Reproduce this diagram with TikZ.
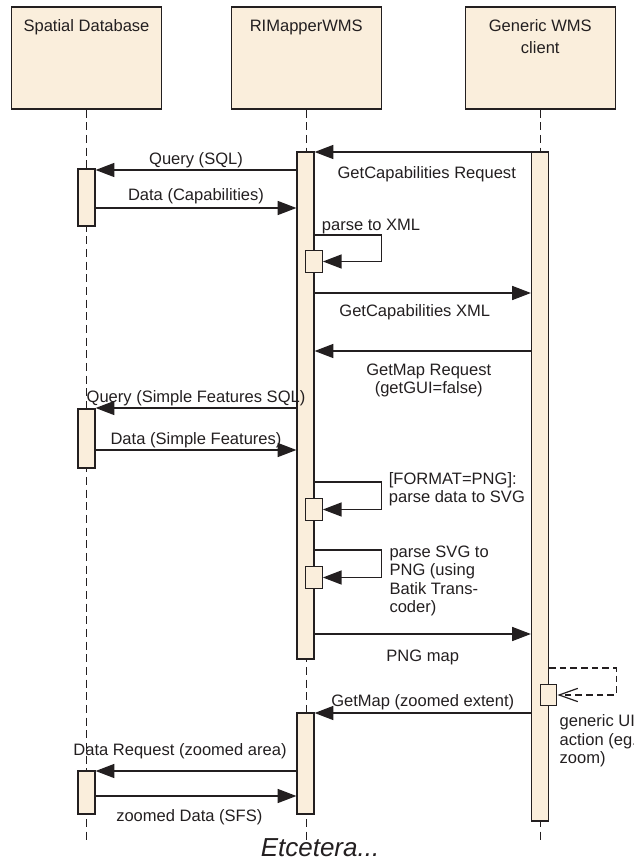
\documentclass[tikz,border=0pt]{standalone}
\usepackage{fontspec}
\setmainfont{Liberation Sans}
\usepackage{xcolor}
\usepackage{tikz}
\usetikzlibrary{arrows.meta, positioning, calc}
\definecolor{barfill}{HTML}{FAEEDC}
\definecolor{ink}{HTML}{231F20}
\tikzstyle{head} = [rectangle, draw=ink, fill=barfill, line width=0.9pt,
    minimum width=112.5pt, minimum height=76.5pt, inner sep=0pt]
\tikzstyle{headtext} = [anchor=north, inner sep=0pt, align=center, yshift=-9.75pt,
    font=\fontsize{12.4}{16.5}\selectfont]
\tikzstyle{bar} = [rectangle, draw=ink, fill=barfill, line width=0.9pt,
    minimum width=12.75pt, inner sep=0pt]
\tikzstyle{selfbar} = [bar, minimum width=12.4pt, minimum height=16pt]
\tikzstyle{life} = [draw=ink, line width=0.7pt, dash pattern=on 6pt off 3.5pt]
\tikzstyle{msg} = [draw=ink, line width=0.9pt, -{Triangle[length=14pt, width=10.5pt]}]
\tikzstyle{reply} = [draw=ink, line width=0.9pt, dash pattern=on 5pt off 3pt,
    -{Straight Barb[length=14pt, width=10pt]}]
\tikzstyle{lbl} = [inner sep=0pt, text=ink, align=center]

\begin{document}
\begin{tikzpicture}[x=0.75pt, y=-0.75pt, font=\fontsize{12.4}{13.9}\selectfont, text=ink]
  \useasboundingbox (0,0) rectangle (633,863);

  % Objects
  \node[head](db) at (86.5,58){};
  \node[head](rim) at (306.25,58){};
  \node[head](gen) at (540.25,58){};
  \node[headtext](dbtxt) at (db.north){Spatial Database};
  \node[headtext](rimtxt) at (rim.north){RIMapperWMS};
  \node[headtext](gentxt) at (gen.north){Generic WMS\\client};

  % Lifelines
  \draw[life](db.south)--(db.south |- 0,843);
  \draw[life](rim.south)--(rim.south |- 0,843);
  \draw[life](gen.south)--(gen.south |- 0,843);

  % Activation bars
  \node[bar, minimum height=380.25pt](rim1) at (305.5,405.5){};
  \node[bar, minimum height=501.75pt](gen1) at (540,486.5){};
  \node[bar, minimum height=42.75pt](db1) at (86.5,197.5){};
  \node[bar, minimum height=44.25pt](db2) at (86.5,438.5){};
  \node[bar, minimum height=32.25pt](db3) at (86.5,792.5){};
  \node[bar, minimum height=75.75pt](rim2) at (305.5,763.5){};
  \node[selfbar](s1) at (314,261.5){};
  \node[selfbar](s2) at (314,509.5){};
  \node[selfbar](s3) at (314,577.5){};
  \node[selfbar](g2) at (548.5,695){};

  % Capabilities
  \draw[msg](gen1.west |- 0,152)--(rim1.east |- 0,152)
    node[lbl, midway, below=10.5pt, xshift=3pt](m1){GetCapabilities Request};
  \draw[msg](rim1.west |- 0,170)--(db1.east |- 0,170)
    node[lbl, midway, above=1.2pt](m2){Query (SQL)};
  \draw[msg](db1.east |- 0,208)--(rim1.west |- 0,208)
    node[lbl, midway, above=2.6pt](m3){Data (Capabilities)};
  \draw[msg](rim1.east |- 0,235)
    node[lbl, anchor=base west, xshift=5pt, yshift=3.75pt](t1){parse to XML}
    -- ++(67,0) |- (s1.east);
  \draw[msg](rim1.east |- 0,293)--(gen1.west |- 0,293)
    node[lbl, midway, below=8.25pt, xshift=-6pt](m4){GetCapabilities XML};

  % Map
  \draw[msg](gen1.west |- 0,351)--(rim1.east |- 0,351)
    node[lbl, midway, below=9pt, xshift=4.5pt](m5){GetMap Request\\(getGUI=false)};
  \draw[msg](rim1.west |- 0,408)--(db2.east |- 0,408)
    node[lbl, midway, above=1.2pt](m6){Query (Simple Features SQL)};
  \draw[msg](db2.east |- 0,450)--(rim1.west |- 0,450)
    node[lbl, midway, above=1.2pt](m7){Data (Simple Features)};
  \draw[msg](rim1.east |- 0,482)-- ++(67,0)
    node[lbl, anchor=north west, align=left, xshift=5pt, yshift=7.6pt](t2){[FORMAT=PNG]:\\parse data to SVG}
    |- (s2.east);
  \draw[msg](rim1.east |- 0,550)-- ++(67,0)
    node[lbl, anchor=north west, align=left, xshift=5.5pt, yshift=3.75pt](t3){parse SVG to\\PNG (using\\Batik Trans-\\coder)}
    |- (s3.east);
  \draw[msg](rim1.east |- 0,634)--(gen1.west |- 0,634)
    node[lbl, midway, below=11.25pt](m8){PNG map};

  % Zoomed map
  \draw[reply](gen1.east |- 0,668)-- ++(67,0) |- (g2.east);
  \node[lbl, anchor=north west, align=left, xshift=1.5pt, yshift=-6pt](t4) at (g2.south east)
    {generic UI\\action (eg.\\zoom)};
  \draw[msg](gen1.west |- 0,713)--(rim2.east |- 0,713)
    node[lbl, midway, above=2pt](m9){GetMap (zoomed extent)};
  \draw[msg](rim2.west |- 0,771)--(db3.east |- 0,771)
    node[lbl, midway, above=8.5pt, xshift=-12pt](m10){Data Request (zoomed area)};
  \draw[msg](db3.east |- 0,796)--(rim2.west |- 0,796)
    node[lbl, midway, below=10pt, xshift=-5pt](m11){zoomed Data (SFS)};

  \node[font=\fontsize{19.5}{22}\selectfont\itshape, inner sep=0pt](etc) at (320,848){Etcetera...};
\end{tikzpicture}
\end{document}
